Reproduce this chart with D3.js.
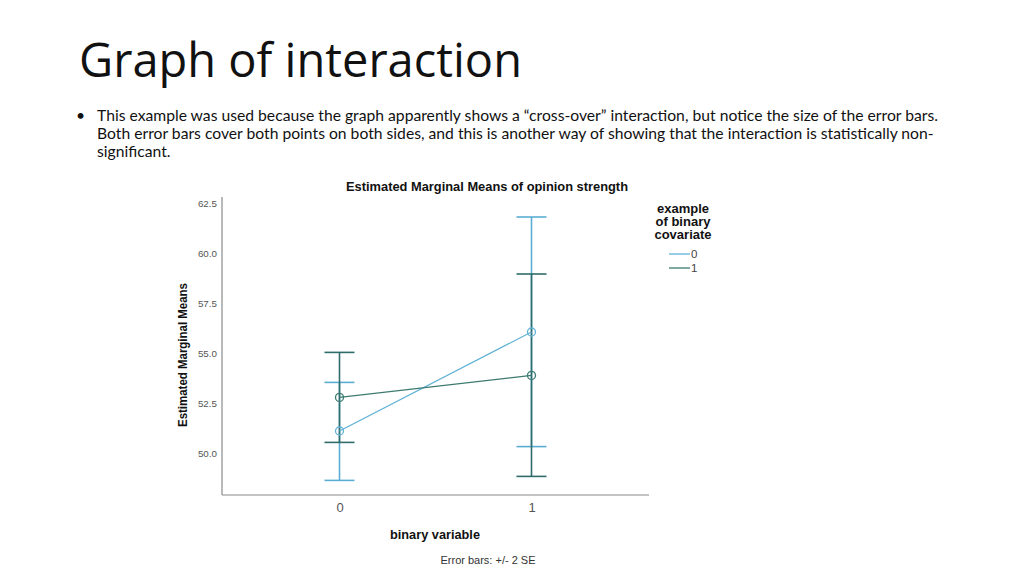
<!DOCTYPE html>
<html><head><meta charset="utf-8">
<script src="https://cdn.jsdelivr.net/npm/d3@7/dist/d3.min.js"></script>
<style>body{margin:0;background:#fff;}svg{display:block;}</style>
</head><body>
<svg id="c" width="1024" height="575"></svg>
<script>
const categories = ["0", "1"];
const seriesNames = ["0", "1"];
const means0 = [51.1, 56.05];
const upper0 = [53.53, 61.8];
const lower0 = [48.63, 50.32];
const means1 = [52.78, 53.88];
const upper1 = [55.03, 58.95];
const lower1 = [50.53, 48.83];
const yTicks = [50.0, 52.5, 55.0, 57.5, 60.0, 62.5];
const colors = ["#62b2d5", "#3c7a70"];
const barColors = ["#5aaed3", "#2f6b68"];

const svg = d3.select("#c");
// Slide title
svg.append("text").attr("x", 79).attr("y", 77).attr("font-family", "Open Sans, Noto Sans, sans-serif")
  .attr("font-size", 47).attr("fill", "#111").text("Graph of interaction");
const lines = ["This example was used because the graph apparently shows a \u201ccross-over\u201d interaction, but notice the size of the error bars.",
  "Both error bars cover both points on both sides, and this is another way of showing that the interaction is statistically non-",
  "significant."];
svg.append("text").attr("x", 76).attr("y", 121).attr("font-family", "Lato, sans-serif").attr("font-size", 15.7).attr("fill", "#111").text("\u2022");
lines.forEach((t, i) => svg.append("text").attr("x", 97).attr("y", 121 + i * 18)
  .attr("font-family", "Lato, sans-serif").attr("font-size", 15.7).attr("fill", "#111").text(t));

const x = d3.scalePoint().domain(categories).range([339.5, 531.5]);
const y = d3.scaleLinear().domain([50, 62.5]).range([453, 203]);
const y0 = y(47.9), yTop = y(62.8);
const left = 222, right = 649;

const g = svg.append("g");
// axes
g.append("line").attr("x1", left).attr("x2", left).attr("y1", yTop).attr("y2", y0).attr("stroke", "#8a8a8a").attr("stroke-width", 1.2);
g.append("line").attr("x1", left).attr("x2", right).attr("y1", y0).attr("y2", y0).attr("stroke", "#8a8a8a").attr("stroke-width", 1.2);
const yAxis = d3.axisLeft(y).tickValues(yTicks).tickFormat(d3.format(".1f")).tickSize(0).tickPadding(5);
const ya = g.append("g").attr("transform", `translate(${left},0)`).call(yAxis);
ya.select(".domain").remove();
ya.selectAll("text").attr("font-family", "Liberation Sans, Arial, sans-serif").attr("font-size", 9.8).attr("fill", "#555");
const xAxis = d3.axisBottom(x).tickSize(0).tickPadding(8);
const xa = g.append("g").attr("transform", `translate(0,${y0})`).call(xAxis);
xa.select(".domain").remove();
xa.selectAll("text").attr("font-family", "Liberation Sans, Arial, sans-serif").attr("font-size", 13).attr("fill", "#555");

// titles
const af = "Liberation Sans, Arial, sans-serif";
svg.append("text").attr("x", 487).attr("y", 191).attr("text-anchor", "middle").attr("font-family", af).attr("font-weight", "bold").attr("font-size", 13).attr("textLength", 282).attr("lengthAdjust", "spacingAndGlyphs").attr("fill", "#111").text("Estimated Marginal Means of opinion strength");
svg.append("text").attr("transform", "translate(187,355) rotate(-90)").attr("text-anchor", "middle").attr("font-family", af).attr("font-weight", "bold").attr("font-size", 13.5).attr("textLength", 144).attr("lengthAdjust", "spacingAndGlyphs").attr("fill", "#111").text("Estimated Marginal Means");
svg.append("text").attr("x", 435).attr("y", 539).attr("text-anchor", "middle").attr("font-family", af).attr("font-weight", "bold").attr("font-size", 12.8).attr("textLength", 90).attr("lengthAdjust", "spacingAndGlyphs").attr("fill", "#111").text("binary variable");
svg.append("text").attr("x", 488).attr("y", 564).attr("text-anchor", "middle").attr("font-family", af).attr("font-size", 11).attr("fill", "#333").text("Error bars:  +/- 2 SE");

const series = [
  {name: seriesNames[0], m: means0, u: upper0, l: lower0, c: colors[0], bc: barColors[0]},
  {name: seriesNames[1], m: means1, u: upper1, l: lower1, c: colors[1], bc: barColors[1]}
];
const capW = 15;
series.forEach(s => {
  categories.forEach((cat, i) => {
    const cx = x(cat);
    g.append("line").attr("x1", cx).attr("x2", cx).attr("y1", y(s.u[i])).attr("y2", y(s.l[i])).attr("stroke", s.bc).attr("stroke-width", 1.6);
    [s.u[i], s.l[i]].forEach(v => g.append("line").attr("x1", cx - capW).attr("x2", cx + capW).attr("y1", y(v)).attr("y2", y(v)).attr("stroke", s.bc).attr("stroke-width", 1.6));
  });
});
series.forEach(s => {
  const line = d3.line().x((d, i) => x(categories[i])).y(d => y(d));
  g.append("path").datum(s.m).attr("d", line).attr("fill", "none").attr("stroke", s.c).attr("stroke-width", 1.3);
  s.m.forEach((v, i) => g.append("circle").attr("cx", x(categories[i])).attr("cy", y(v)).attr("r", 4).attr("fill", "none").attr("stroke", s.c).attr("stroke-width", 1.3));
});

// legend
const lg = svg.append("g");
["example", "of binary", "covariate"].forEach((t, i) => lg.append("text").attr("x", 683).attr("y", 213 + i * 13).attr("text-anchor", "middle").attr("font-family", af).attr("font-weight", "bold").attr("font-size", 13).attr("fill", "#111").text(t));
series.forEach((s, i) => {
  const ly = 254 + i * 14;
  lg.append("line").attr("x1", 669).attr("x2", 690).attr("y1", ly).attr("y2", ly).attr("stroke", s.c).attr("stroke-width", 1.3);
  lg.append("text").attr("x", 691).attr("y", ly + 4).attr("font-family", af).attr("font-size", 11.5).attr("fill", "#444").text(s.name);
});
</script>
</body></html>
